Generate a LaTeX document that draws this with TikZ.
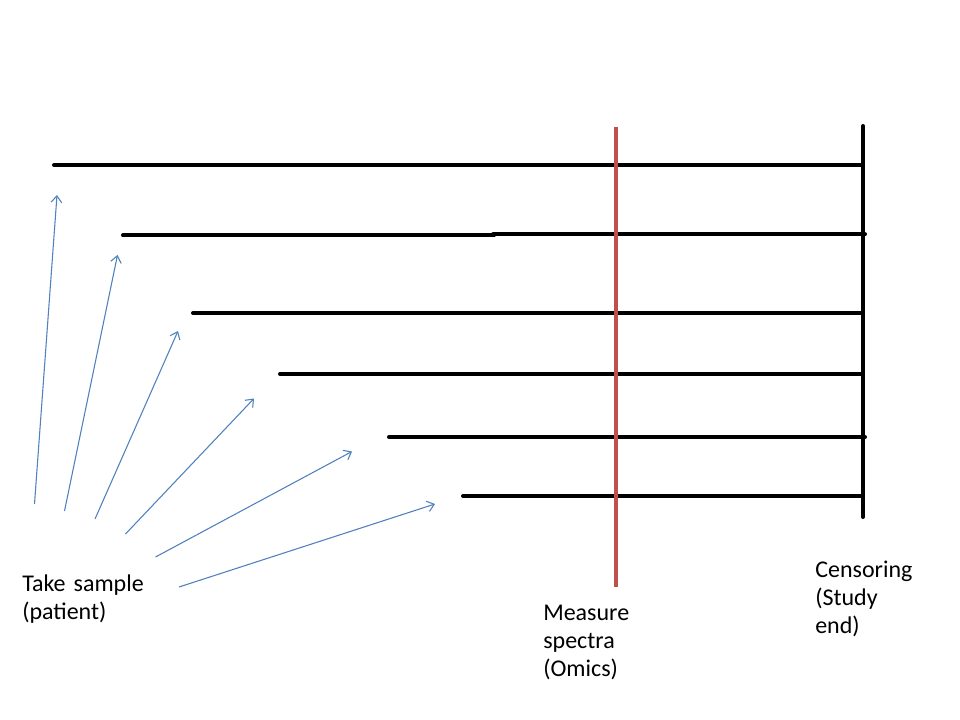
\documentclass[tikz,border=0pt]{standalone}
\usepackage{fontspec}
\setmainfont{Carlito}
\usetikzlibrary{arrows.meta}
\definecolor{arrowblue}{HTML}{4F81BD}
\definecolor{measred}{HTML}{C0504D}
\begin{document}
\begin{tikzpicture}[x=0.75pt,y=-0.75pt,
  timeline/.style={line width=3pt,line cap=round},
  endbar/.style={line width=3pt,line cap=round},
  redbar/.style={measred,line width=2.4pt},
  samplearrow/.style={arrowblue,line width=0.8pt,-{Straight Barb[length=5pt,width=8pt,line width=0.8pt]}},
  lbl/.style={font=\fontsize{18}{21}\selectfont,align=left,anchor=base west,inner sep=0pt,text width=100pt}]
\useasboundingbox[fill=white] (0,0) rectangle (960,720);
% patient follow-up lines
\draw[timeline] (54,165) -- (862,165);
\draw[timeline] (123,235.5) -- (494,235.5);
\draw[timeline] (493,234.5) -- (865,234.5);
\draw[timeline] (193,313) -- (862,313);
\draw[timeline] (280,374) -- (862,374);
\draw[timeline] (389,437) -- (865,437);
\draw[timeline] (463,496) -- (862,496);
% censoring bar
\draw[endbar] (863,126) -- (863,517);
% measurement bar
\draw[redbar] (616,127) -- (616,587);
% arrows
\coordinate (s1) at (34.5,504); \coordinate (e1) at (57,195);
\coordinate (s2) at (64.5,511); \coordinate (e2) at (117.5,255);
\coordinate (s3) at (95,519);   \coordinate (e3) at (178,331);
\coordinate (s4) at (125.5,534);\coordinate (e4) at (254,398.5);
\coordinate (s5) at (155.5,557);\coordinate (e5) at (352,451.5);
\coordinate (s6) at (179,587);  \coordinate (e6) at (435,504);
\foreach \i in {1,...,6} \draw[samplearrow] (s\i) -- (e\i);
% labels
\node[lbl] (take) at (22,591) {Take sample\\(patient)};
\node[lbl] (meas) at (543,620.5) {Measure\\spectra\\(Omics)};
\node[lbl] (cens) at (815,577) {Censoring\\(Study\\end)};
\end{tikzpicture}
\end{document}
